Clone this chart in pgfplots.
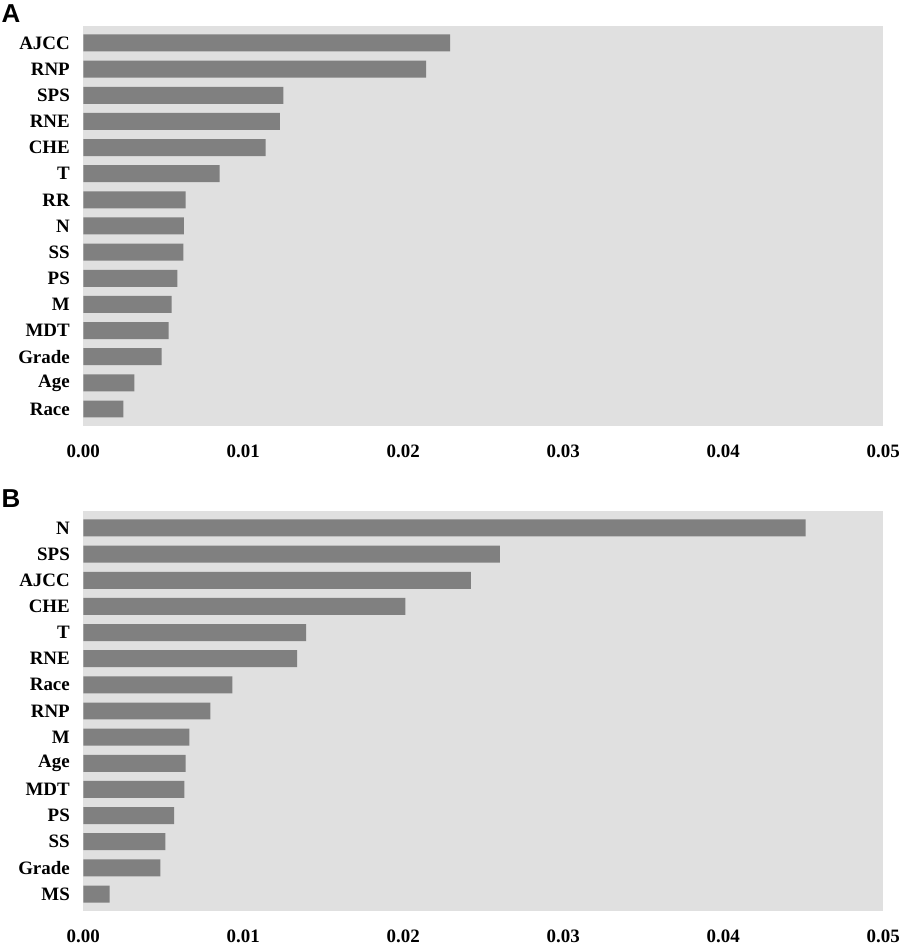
\documentclass[border=0pt]{standalone}
\usepackage{fontspec}
\setmainfont{Liberation Serif}
\newfontfamily\labelsans{Liberation Sans}
\usepackage{pgfplots}
\pgfplotsset{compat=1.18}
\definecolor{bg}{RGB}{224,224,224}
\definecolor{barc}{RGB}{128,128,128}
\pgfplotsset{imp/.style={
  scale only axis, width=800bp, height=400bp,
  xbar, bar width=0.65, bar shift=0pt,
  xmin=0, xmax=0.05, ymin=-0.65, ymax=14.65,
  xtick={0,0.01,0.02,0.03,0.04,0.05},
  ytick={0,1,2,3,4,5,6,7,8,9,10,11,12,13,14},
  scaled x ticks=false,
  axis line style={draw=none},
  major tick length=0pt,
  axis background/.style={fill=bg},
  tick label style={font=\fontsize{19}{22}\selectfont\bfseries},
  xticklabel style={yshift=-15bp},
  yticklabel style={xshift=-10bp},
  /pgf/number format/fixed,
  /pgf/number format/fixed zerofill,
  /pgf/number format/precision=2,
  /pgf/number format/assume math mode=true,
}}
\begin{document}
\begin{tikzpicture}
\useasboundingbox (0,0) rectangle (903bp,945bp);
\begin{axis}[imp, at={(83.3bp,519bp)}, anchor=south west,
  yticklabels={Race,Age,Grade,MDT,M,PS,SS,N,RR,T,CHE,RNE,SPS,RNP,AJCC}]
\addplot[fill=barc, draw=none] coordinates {
(0.00250,0) (0.00319,1) (0.00490,2) (0.00534,3) (0.00552,4)
(0.00588,5) (0.00625,6) (0.00629,7) (0.00640,8) (0.00852,9)
(0.01140,10) (0.01229,11) (0.01250,12) (0.02142,13) (0.02292,14)};
\end{axis}
\begin{axis}[imp, at={(83.3bp,34bp)}, anchor=south west,
  yticklabels={MS,Grade,SS,PS,MDT,Age,M,RNP,Race,RNE,T,CHE,AJCC,SPS,N}]
\addplot[fill=barc, draw=none] coordinates {
(0.00165,0) (0.00481,1) (0.00513,2) (0.00567,3) (0.00631,4)
(0.00640,5) (0.00663,6) (0.00794,7) (0.00931,8) (0.01336,9)
(0.01392,10) (0.02013,11) (0.02423,12) (0.02604,13) (0.04515,14)};
\end{axis}
\node[font=\labelsans\bfseries\fontsize{26}{28}\selectfont] at (11bp,931bp) {A};
\node[font=\labelsans\bfseries\fontsize{26}{28}\selectfont] at (11bp,446bp) {B};
\end{tikzpicture}
\end{document}
